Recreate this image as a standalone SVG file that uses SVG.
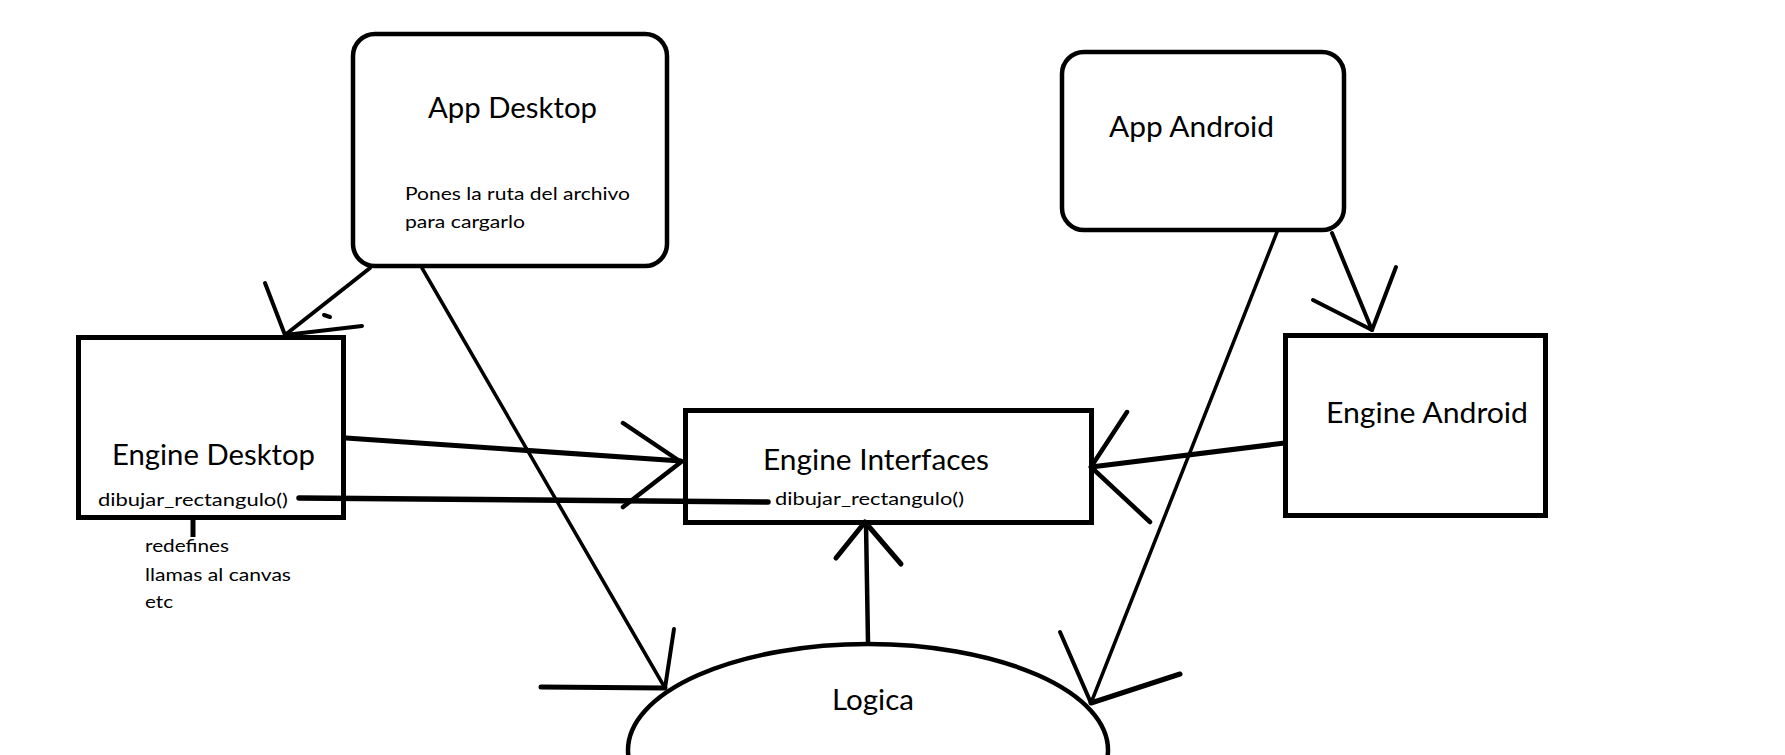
<svg xmlns="http://www.w3.org/2000/svg" width="1785" height="755" viewBox="0 0 1785 755">
<style>
.box{fill:none;stroke:#000;stroke-width:5}
.rbox{fill:none;stroke:#000;stroke-width:4.5}
.ln{fill:none;stroke:#000;stroke-linecap:round;stroke-linejoin:round}
.t{font-family:Lato,"Open Sans","Liberation Sans",sans-serif;fill:#000}
.big{font-size:28px}
.sm{font-size:18px}
</style>
<rect width="1785" height="755" fill="#fff"/>
<g id="connectors">
  <!-- App Desktop -> Engine Desktop -->
  <line class="ln" x1="370" y1="268" x2="285" y2="335" stroke-width="4"/>
  <polyline class="ln" points="265,283 285,335 362,326" stroke-width="4"/>
  <line class="ln" x1="324" y1="315" x2="330" y2="317" stroke-width="4"/>
  <!-- App Desktop -> Logica -->
  <line class="ln" x1="422" y1="268" x2="665" y2="688" stroke-width="3.5"/>
  <line class="ln" x1="674" y1="629" x2="665" y2="688" stroke-width="4"/>
  <line class="ln" x1="541" y1="687" x2="665" y2="688" stroke-width="5"/>
  <!-- App Android -> Engine Android -->
  <line class="ln" x1="1332" y1="233" x2="1372" y2="330" stroke-width="4"/>
  <polyline class="ln" points="1313,300 1372,330 1396,267" stroke-width="4"/>
  <!-- App Android -> Logica -->
  <line class="ln" x1="1277" y1="232" x2="1091" y2="703" stroke-width="3.5"/>
  <line class="ln" x1="1060" y1="632" x2="1091" y2="703" stroke-width="4"/>
  <line class="ln" x1="1091" y1="703" x2="1180" y2="674" stroke-width="5"/>
  <!-- Engine Desktop -> Engine Interfaces -->
  <line class="ln" x1="346" y1="438" x2="681" y2="461" stroke-width="5"/>
  <polyline class="ln" points="623,423 681,462 623,507" stroke-width="4.5"/>
  <!-- dibujar_rectangulo link -->
  <line class="ln" x1="299" y1="498" x2="768" y2="502" stroke-width="5.5"/>
  <!-- Engine Android -> Engine Interfaces -->
  <line class="ln" x1="1285" y1="443" x2="1091" y2="467" stroke-width="5"/>
  <polyline class="ln" points="1127,412 1091,467 1150,522" stroke-width="4.5"/>
  <!-- Logica -> Engine Interfaces -->
  <line class="ln" x1="868" y1="643" x2="866" y2="524" stroke-width="4.5"/>
  <polyline class="ln" points="836,558 865,522 901,564" stroke-width="5"/>
  <!-- note tick -->
  <line x1="193" y1="519" x2="193" y2="537" stroke="#000" stroke-width="5"/>
</g>
<g id="app-desktop">
  <rect class="rbox" x="353" y="34" width="314" height="232" rx="22"/>
  <text class="t big" x="428" y="118" textLength="169" lengthAdjust="spacingAndGlyphs">App Desktop</text>
  <text class="t sm" x="405" y="200" textLength="225" lengthAdjust="spacingAndGlyphs">Pones la ruta del archivo</text>
  <text class="t sm" x="405" y="228" textLength="120" lengthAdjust="spacingAndGlyphs">para cargarlo</text>
</g>
<g id="app-android">
  <rect class="rbox" x="1062" y="52" width="282" height="178" rx="22"/>
  <text class="t big" x="1109" y="137" textLength="165" lengthAdjust="spacingAndGlyphs">App Android</text>
</g>
<g id="engine-desktop">
  <rect class="box" x="78.5" y="337.5" width="265" height="180"/>
  <text class="t big" x="112" y="465" textLength="203" lengthAdjust="spacingAndGlyphs">Engine Desktop</text>
  <text class="t sm" x="98" y="506" textLength="190" lengthAdjust="spacingAndGlyphs">dibujar_rectangulo()</text>
</g>
<g id="note">
  <text class="t sm" x="145" y="552" textLength="84" lengthAdjust="spacingAndGlyphs">redefines</text>
  <text class="t sm" x="145" y="581" textLength="146" lengthAdjust="spacingAndGlyphs">llamas al canvas</text>
  <text class="t sm" x="145" y="608" textLength="28" lengthAdjust="spacingAndGlyphs">etc</text>
</g>
<g id="engine-interfaces">
  <rect class="box" x="685.5" y="410.5" width="406" height="112"/>
  <text class="t big" x="763" y="470" textLength="226" lengthAdjust="spacingAndGlyphs">Engine Interfaces</text>
  <text class="t sm" x="775" y="505" textLength="189" lengthAdjust="spacingAndGlyphs">dibujar_rectangulo()</text>
</g>
<g id="engine-android">
  <rect class="box" x="1285.5" y="335.5" width="260" height="180"/>
  <text class="t big" x="1326" y="423" textLength="202" lengthAdjust="spacingAndGlyphs">Engine Android</text>
</g>
<g id="logica">
  <ellipse cx="868" cy="750" rx="240" ry="106" fill="none" stroke="#000" stroke-width="4.5"/>
  <text class="t big" x="832" y="710" textLength="82" lengthAdjust="spacingAndGlyphs">Logica</text>
</g>
</svg>
